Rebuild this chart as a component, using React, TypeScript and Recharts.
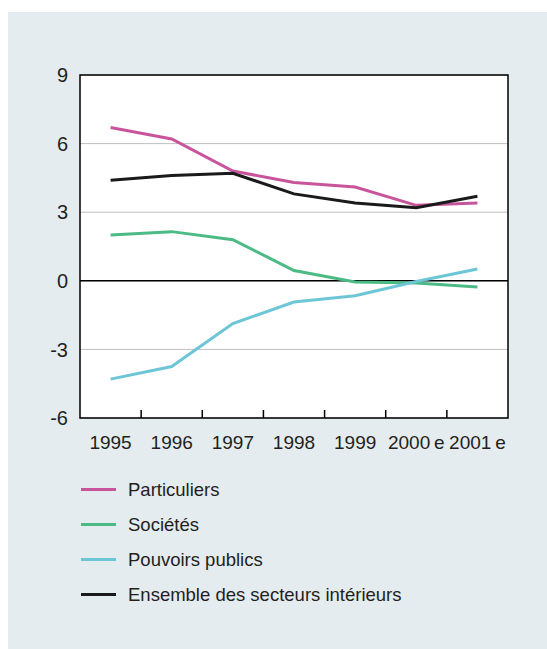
import React from "react";
import {
  LineChart,
  Line,
  XAxis,
  YAxis,
  CartesianGrid,
  ReferenceLine,
  ReferenceArea,
} from "recharts";

// --- Data ---
const years = ["1995", "1996", "1997", "1998", "1999", "2000\u2009e", "2001\u2009e"];
const particuliers = [6.7, 6.2, 4.8, 4.3, 4.1, 3.3, 3.4];
const societes = [2.0, 2.15, 1.8, 0.45, -0.05, -0.1, -0.27];
const pouvoirsPublics = [-4.3, -3.75, -1.87, -0.93, -0.65, -0.03, 0.52];
const ensemble = [4.4, 4.6, 4.7, 3.8, 3.4, 3.2, 3.7];
const yTicks = [-6, -3, 0, 3, 6, 9];

const series = [
  { key: "particuliers", name: "Particuliers", color: "#c8559b" },
  { key: "societes", name: "Sociétés", color: "#4cba84" },
  { key: "pouvoirs", name: "Pouvoirs publics", color: "#6cc6d6" },
  { key: "ensemble", name: "Ensemble des secteurs intérieurs", color: "#1a1a1a" },
];

const data = years.map((y, i) => ({
  i,
  year: y,
  particuliers: particuliers[i],
  societes: societes[i],
  pouvoirs: pouvoirsPublics[i],
  ensemble: ensemble[i],
}));

const labelTicks = years.map((_, i) => i);
const boundaryTicks = years.slice(1).map((_, i) => i + 0.5);

const FONT = "'Liberation Sans', Arial, Helvetica, sans-serif";
const TEXT = "#231f20";
const blank = () => "";

export default function App() {
  return (
    <div
      style={{
        position: "absolute",
        left: 8,
        top: 12,
        width: 539,
        height: 637,
        background: "#e5ecef",
        fontFamily: FONT,
      }}
    >
      <LineChart
        width={539}
        height={460}
        data={data}
        margin={{ top: 63, right: 39, left: 12, bottom: 24 }}
      >
        <CartesianGrid vertical={false} stroke="#bfbfbf" fill="#ffffff" />
        <XAxis
          dataKey="i"
          type="number"
          domain={[-0.5, 6.5]}
          ticks={labelTicks}
          tickFormatter={(v: number) => years[v]}
          tickLine={false}
          axisLine={false}
          tickSize={0}
          tickMargin={18}
          height={30}
          interval={0}
          tick={{ fill: TEXT, fontSize: 19, fontFamily: FONT }}
        />
        {/* petits traits entre les années */}
        <XAxis
          xAxisId="tk"
          dataKey="i"
          type="number"
          domain={[-0.5, 6.5]}
          ticks={boundaryTicks}
          tickFormatter={blank}
          mirror
          axisLine={false}
          tickSize={8}
          height={8}
          interval={0}
          tickLine={{ stroke: "#000", strokeWidth: 1.5 }}
        />
        <YAxis
          domain={[-6, 9]}
          ticks={yTicks}
          width={60}
          tickLine={false}
          axisLine={false}
          tickSize={0}
          tickMargin={12}
          interval={0}
          tick={{ fill: TEXT, fontSize: 20, fontFamily: FONT }}
        />
        <YAxis
          yAxisId="tk"
          domain={[-6, 9]}
          ticks={yTicks}
          tickFormatter={blank}
          mirror
          width={8}
          axisLine={false}
          tickSize={8}
          interval={0}
          tickLine={{ stroke: "#000", strokeWidth: 1.5 }}
        />
        <ReferenceLine y={0} stroke="#000" strokeWidth={1.5} />
        <ReferenceArea
          x1={-0.5}
          x2={6.5}
          y1={-6}
          y2={9}
          fill="none"
          stroke="#000"
          strokeWidth={1.5}
          ifOverflow="visible"
        />
        {series.map((s) => (
          <Line
            key={s.key}
            type="linear"
            dataKey={s.key}
            name={s.name}
            stroke={s.color}
            strokeWidth={3}
            dot={false}
            isAnimationActive={false}
          />
        ))}
      </LineChart>

      {/* légende */}
      <div style={{ position: "absolute", left: 73, top: 460 }}>
        {series.map((s) => (
          <div
            key={s.key}
            style={{ display: "flex", alignItems: "center", height: 35 }}
          >
            <div style={{ width: 35, height: 3, background: s.color }} />
            <span
              style={{
                marginLeft: 12,
                fontSize: 18.5,
                color: TEXT,
                fontFamily: FONT,
              }}
            >
              {s.name}
            </span>
          </div>
        ))}
      </div>
    </div>
  );
}
